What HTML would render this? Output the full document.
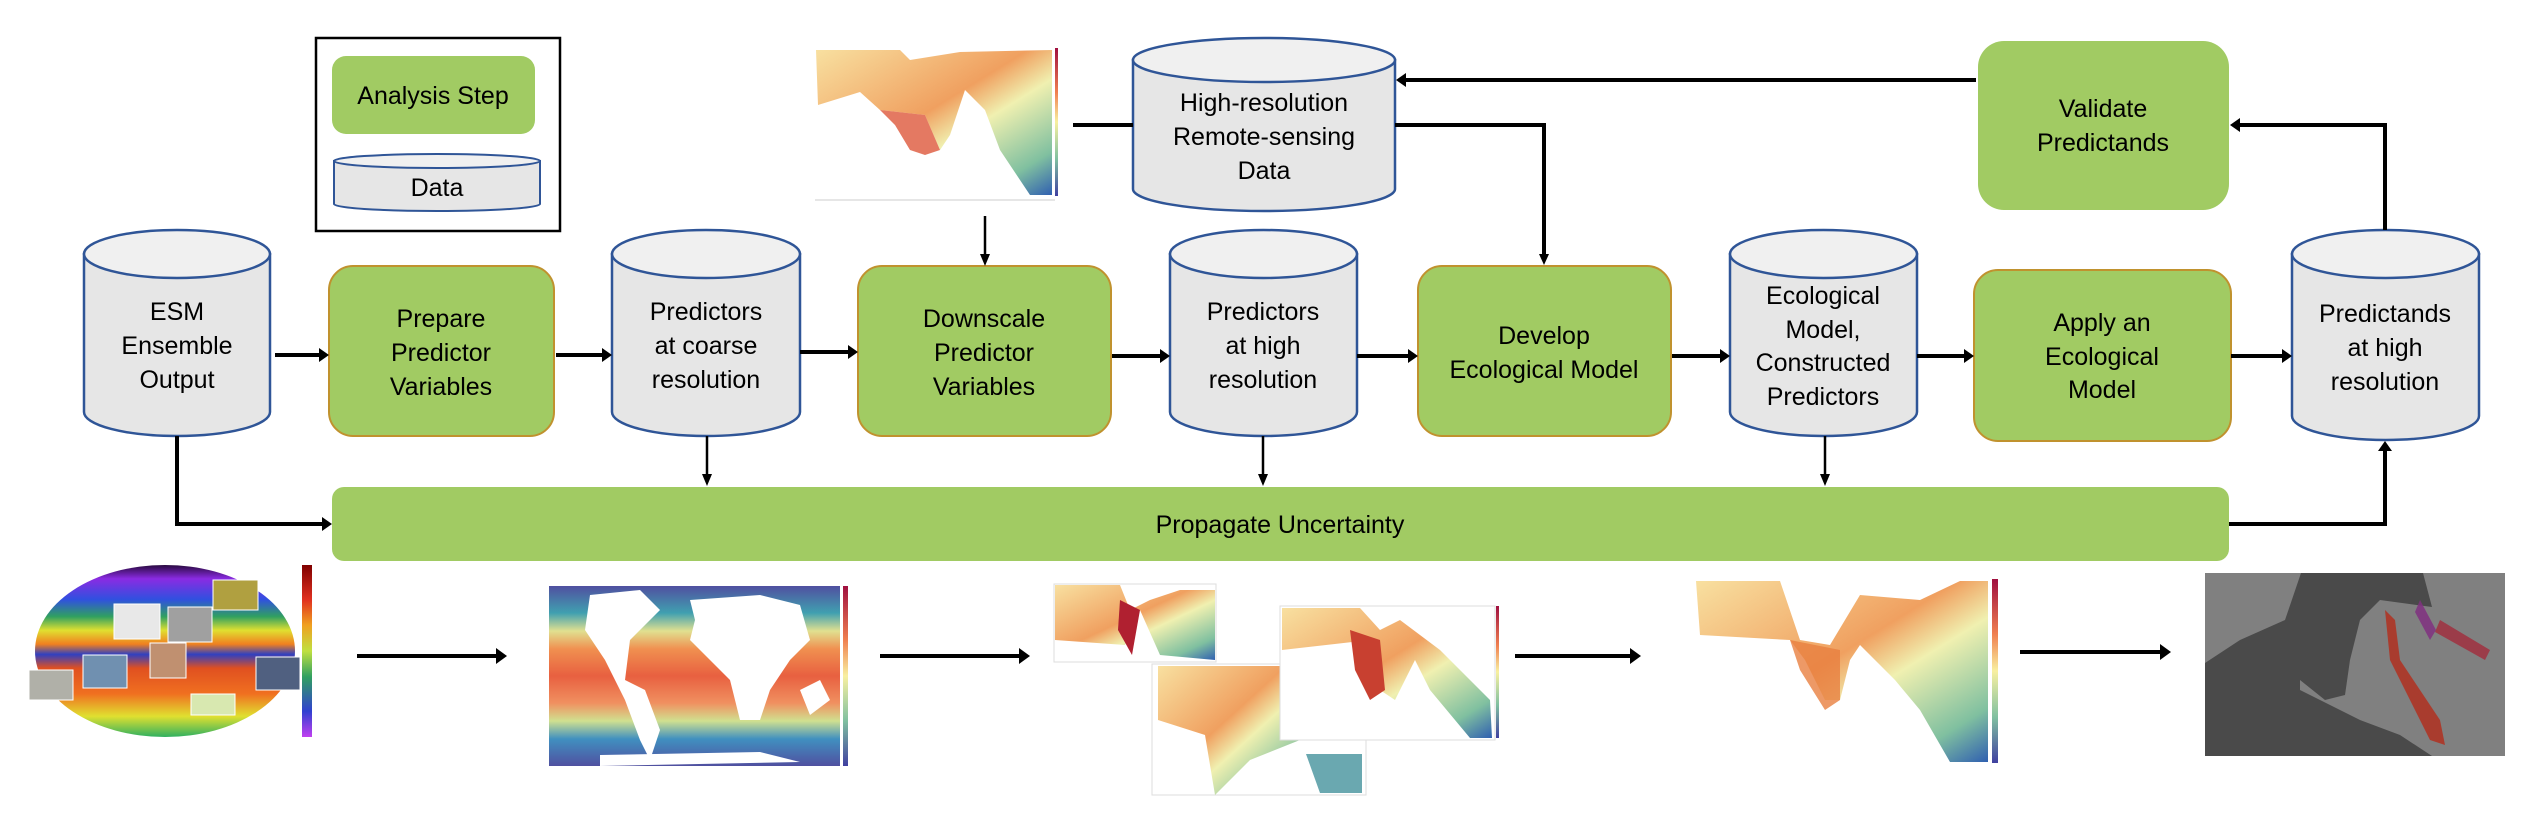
<!DOCTYPE html>
<html><head><meta charset="utf-8"><style>
html,body{margin:0;padding:0;background:#fff;width:2544px;height:832px;overflow:hidden}
svg{display:block}
text{font-family:"Liberation Sans",sans-serif;font-size:25px;fill:#000;text-anchor:middle;dominant-baseline:central}
</style></head><body>
<svg width="2544" height="832" viewBox="0 0 2544 832" xmlns="http://www.w3.org/2000/svg">
<defs>
<linearGradient id="globe" x1="0" y1="0" x2="0" y2="1">
<stop offset="0" stop-color="#2a0a40"/><stop offset="0.08" stop-color="#8a2be2"/><stop offset="0.2" stop-color="#3050e0"/><stop offset="0.3" stop-color="#30a060"/><stop offset="0.38" stop-color="#e0e030"/><stop offset="0.46" stop-color="#f08020"/><stop offset="0.52" stop-color="#3040c0"/><stop offset="0.6" stop-color="#e05020"/><stop offset="0.75" stop-color="#f07020"/><stop offset="0.88" stop-color="#e0e030"/><stop offset="1" stop-color="#30b060"/>
</linearGradient>
<linearGradient id="cbar" x1="0" y1="0" x2="0" y2="1">
<stop offset="0" stop-color="#800000"/><stop offset="0.2" stop-color="#e03020"/><stop offset="0.35" stop-color="#f0a020"/><stop offset="0.5" stop-color="#c0e040"/><stop offset="0.65" stop-color="#30a060"/><stop offset="0.85" stop-color="#3040d0"/><stop offset="1" stop-color="#c040f0"/>
</linearGradient>
<linearGradient id="sst" x1="0" y1="0" x2="0" y2="1">
<stop offset="0" stop-color="#5050a0"/><stop offset="0.15" stop-color="#40a0b0"/><stop offset="0.25" stop-color="#e0e090"/><stop offset="0.35" stop-color="#f09050"/><stop offset="0.5" stop-color="#e86040"/><stop offset="0.65" stop-color="#f09060"/><stop offset="0.75" stop-color="#d0e090"/><stop offset="0.85" stop-color="#4090c0"/><stop offset="1" stop-color="#5050a0"/>
</linearGradient>
<linearGradient id="reg" x1="0" y1="0" x2="1" y2="1">
<stop offset="0" stop-color="#f8e0a0"/><stop offset="0.45" stop-color="#f0a060"/><stop offset="0.6" stop-color="#f0f0b0"/><stop offset="0.85" stop-color="#80c0a0"/><stop offset="1" stop-color="#3060b0"/>
</linearGradient>
<linearGradient id="spec" x1="0" y1="0" x2="0" y2="1">
<stop offset="0" stop-color="#a01040"/><stop offset="0.3" stop-color="#f08050"/><stop offset="0.5" stop-color="#f8f0a0"/><stop offset="0.75" stop-color="#80c0a0"/><stop offset="1" stop-color="#4040a0"/>
</linearGradient>
</defs>

<rect x="316" y="38" width="244" height="193" fill="#fff" stroke="#000" stroke-width="2.5"/>
<rect x="332" y="56" width="203" height="78" rx="14" fill="#a1cb63"/>
<text x="433" y="96">Analysis Step</text>
<path d="M334 161 L334 204 A103 7 0 0 0 540 204 L540 161 Z" fill="#e6e6e6" stroke="#2f5597" stroke-width="2"/>
<ellipse cx="437" cy="161" rx="103" ry="7" fill="#f0f0f0" stroke="#2f5597" stroke-width="2"/>
<text x="437" y="188">Data</text>

<rect x="815" y="48" width="239" height="152" fill="#fff"/>
<path d="M816 50 L900 50 L910 60 L960 52 L1052 50 L1052 195 L1030 195 L1000 150 L985 110 L965 90 L950 135 L940 150 L925 115 L880 110 L860 92 L818 105 Z" fill="url(#reg)"/>
<path d="M880 110 L925 115 L940 150 L925 155 L910 150 L895 125 Z" fill="#d84020" opacity="0.7"/>
<rect x="1055" y="48" width="3" height="148" fill="url(#spec)"/>
<line x1="815" y1="200" x2="1055" y2="200" stroke="#ccc"/>

<path d="M1133 60 L1133 189 A131 22 0 0 0 1395 189 L1395 60 Z" fill="#e6e6e6" stroke="#2f5597" stroke-width="2.5"/>
<ellipse cx="1264" cy="60" rx="131" ry="22" fill="#f0f0f0" stroke="#2f5597" stroke-width="2.5"/>
<text x="1264" y="103">High-resolution</text>
<text x="1264" y="137">Remote-sensing</text>
<text x="1264" y="171">Data</text>

<rect x="1978" y="41" width="251" height="169" rx="26" fill="#a1cb63"/>
<text x="2103" y="109">Validate</text>
<text x="2103" y="143">Predictands</text>

<g stroke="#2f5597" stroke-width="2.5">
<path d="M84 254 L84 412 A93 24 0 0 0 270 412 L270 254 Z" fill="#e6e6e6"/>
<ellipse cx="177" cy="254" rx="93" ry="24" fill="#f0f0f0"/>
<path d="M612 254 L612 412 A94 24 0 0 0 800 412 L800 254 Z" fill="#e6e6e6"/>
<ellipse cx="706" cy="254" rx="94" ry="24" fill="#f0f0f0"/>
<path d="M1170 254 L1170 412 A93.5 24 0 0 0 1357 412 L1357 254 Z" fill="#e6e6e6"/>
<ellipse cx="1263.5" cy="254" rx="93.5" ry="24" fill="#f0f0f0"/>
<path d="M1730 254 L1730 412 A93.5 24 0 0 0 1917 412 L1917 254 Z" fill="#e6e6e6"/>
<ellipse cx="1823.5" cy="254" rx="93.5" ry="24" fill="#f0f0f0"/>
<path d="M2292 254 L2292 416 A93.5 24 0 0 0 2479 416 L2479 254 Z" fill="#e6e6e6"/>
<ellipse cx="2385.5" cy="254" rx="93.5" ry="24" fill="#f0f0f0"/>
</g>
<text x="177" y="312">ESM</text><text x="177" y="346">Ensemble</text><text x="177" y="380">Output</text>
<text x="706" y="312">Predictors</text><text x="706" y="346">at coarse</text><text x="706" y="380">resolution</text>
<text x="1263" y="312">Predictors</text><text x="1263" y="346">at high</text><text x="1263" y="380">resolution</text>
<text x="1823" y="296">Ecological</text><text x="1823" y="330">Model,</text><text x="1823" y="363">Constructed</text><text x="1823" y="397">Predictors</text>
<text x="2385" y="314">Predictands</text><text x="2385" y="348">at high</text><text x="2385" y="382">resolution</text>

<g fill="#a1cb63" stroke="#c0922e" stroke-width="2">
<rect x="329" y="266" width="225" height="170" rx="24"/>
<rect x="858" y="266" width="253" height="170" rx="24"/>
<rect x="1418" y="266" width="253" height="170" rx="24"/>
<rect x="1974" y="270" width="257" height="171" rx="24"/>
</g>
<text x="441" y="319">Prepare</text><text x="441" y="353">Predictor</text><text x="441" y="387">Variables</text>
<text x="984" y="319">Downscale</text><text x="984" y="353">Predictor</text><text x="984" y="387">Variables</text>
<text x="1544" y="336">Develop</text><text x="1544" y="370">Ecological Model</text>
<text x="2102" y="323">Apply an</text><text x="2102" y="357">Ecological</text><text x="2102" y="390">Model</text>

<rect x="332" y="487" width="1897" height="74" rx="12" fill="#a1cb63"/>
<text x="1280" y="525">Propagate Uncertainty</text>

<g stroke="#000" fill="none">
<g stroke-width="4">
<line x1="275" y1="355" x2="320" y2="355"/>
<line x1="556" y1="355" x2="604" y2="355"/>
<line x1="800" y1="352" x2="850" y2="352"/>
<line x1="1112" y1="356" x2="1162" y2="356"/>
<line x1="1357" y1="356" x2="1410" y2="356"/>
<line x1="1672" y1="356" x2="1722" y2="356"/>
<line x1="1917" y1="356" x2="1966" y2="356"/>
<line x1="2231" y1="356" x2="2284" y2="356"/>
<line x1="1976" y1="80" x2="1405" y2="80"/>
<polyline points="177,436 177,524 324,524"/>
<polyline points="2229,524 2385,524 2385,450"/>
<polyline points="2385,230 2385,125 2238,125"/>
<line x1="1073" y1="125" x2="1133" y2="125"/>
<polyline points="1395,125 1544,125 1544,256"/>
<line x1="357" y1="656" x2="498" y2="656"/>
<line x1="880" y1="656" x2="1022" y2="656"/>
<line x1="1515" y1="656" x2="1632" y2="656"/>
<line x1="2020" y1="652" x2="2162" y2="652"/>
</g>
<g stroke-width="2.5">
<line x1="707" y1="436" x2="707" y2="476"/>
<line x1="1263" y1="436" x2="1263" y2="476"/>
<line x1="1825" y1="436" x2="1825" y2="476"/>
<line x1="985" y1="216" x2="985" y2="256"/>
</g>
</g>
<g fill="#000">
<polygon points="329,355 319,348 319,362"/>
<polygon points="612,355 602,348 602,362"/>
<polygon points="858,352 848,345 848,359"/>
<polygon points="1170,356 1160,349 1160,363"/>
<polygon points="1418,356 1408,349 1408,363"/>
<polygon points="1730,356 1720,349 1720,363"/>
<polygon points="1974,356 1964,349 1964,363"/>
<polygon points="2292,356 2282,349 2282,363"/>
<polygon points="1396,80 1406,73 1406,87"/>
<polygon points="332,524 322,517 322,531"/>
<polygon points="2385,441 2378,451 2392,451"/>
<polygon points="2230,125 2240,118 2240,132"/>
<polygon points="1544,265 1539,254 1549,254"/>
<polygon points="707,486 702,474 712,474"/>
<polygon points="1263,486 1258,474 1268,474"/>
<polygon points="1825,486 1820,474 1830,474"/>
<polygon points="985,266 980,254 990,254"/>
<polygon points="507,656 496,648 496,664"/>
<polygon points="1030,656 1019,648 1019,664"/>
<polygon points="1641,656 1630,648 1630,664"/>
<polygon points="2171,652 2160,644 2160,660"/>
</g>

<ellipse cx="165" cy="651" rx="130" ry="86" fill="url(#globe)"/>
<g fill="#ccc" stroke="#fff" stroke-width="1">
<rect x="114" y="604" width="46" height="35" fill="#e8e8e8"/>
<rect x="168" y="607" width="44" height="35" fill="#a0a0a0"/>
<rect x="213" y="580" width="45" height="30" fill="#b0a040"/>
<rect x="150" y="643" width="36" height="35" fill="#c09070"/>
<rect x="83" y="655" width="44" height="33" fill="#7090b0"/>
<rect x="29" y="670" width="44" height="30" fill="#b0b0a8"/>
<rect x="256" y="657" width="44" height="33" fill="#506080"/>
<rect x="191" y="694" width="44" height="21" fill="#d8e8b0"/>
</g>
<rect x="302" y="565" width="10" height="172" fill="url(#cbar)"/>

<rect x="549" y="586" width="291" height="180" fill="url(#sst)"/>
<g fill="#fff">
<path d="M590 595 L640 590 L660 610 L630 640 L625 680 L645 690 L660 730 L650 760 L640 740 L625 700 L605 660 L585 630 Z"/>
<path d="M690 600 L760 595 L800 605 L810 640 L790 660 L770 690 L760 720 L740 720 L730 680 L710 660 L690 640 L695 620 Z"/>
<path d="M800 690 L820 680 L830 700 L810 715 Z"/>
<path d="M600 755 L760 752 L800 762 L600 766 Z"/>
</g>
<rect x="843" y="586" width="5" height="180" fill="url(#spec)"/>

<rect x="1152" y="664" width="214" height="131" fill="#fff" stroke="#ddd"/>
<path d="M1158 666 L1300 666 L1300 740 L1250 760 L1215 795 L1205 735 L1158 720 Z" fill="url(#reg)"/>
<path d="M1306 754 L1362 754 L1362 793 L1320 793 Z" fill="#6aa8b0"/>
<rect x="1054" y="584" width="162" height="78" fill="#fff" stroke="#ddd"/>
<path d="M1055 585 L1120 585 L1130 610 L1150 600 L1180 590 L1215 590 L1215 660 L1160 655 L1140 610 L1125 645 L1055 640 Z" fill="url(#reg)"/>
<path d="M1120 600 L1140 610 L1132 655 L1118 630 Z" fill="#b02030"/>
<rect x="1280" y="606" width="215" height="134" fill="#fff" stroke="#ddd"/>
<path d="M1282 608 L1360 608 L1380 630 L1400 620 L1440 650 L1490 700 L1492 738 L1470 738 L1430 690 L1415 660 L1395 700 L1380 690 L1370 640 L1282 650 Z" fill="url(#reg)"/>
<path d="M1350 630 L1380 640 L1385 690 L1370 700 L1355 670 Z" fill="#c84030"/>
<rect x="1496" y="606" width="3" height="132" fill="url(#spec)"/>

<rect x="1694" y="579" width="296" height="184" fill="#fff"/>
<path d="M1696 581 L1780 581 L1800 640 L1830 645 L1860 595 L1920 600 L1960 581 L1988 581 L1988 762 L1950 762 L1920 710 L1895 680 L1860 645 L1850 660 L1840 700 L1825 700 L1805 660 L1790 640 L1700 635 Z" fill="url(#reg)"/>
<path d="M1790 640 L1840 650 L1840 700 L1825 710 L1800 670 Z" fill="#e88040" opacity="0.8"/>
<rect x="1992" y="579" width="6" height="184" fill="url(#spec)"/>

<rect x="2205" y="573" width="300" height="183" fill="#808080"/>
<path d="M2205 663 L2240 640 L2285 620 L2301 573 L2423 573 L2432 607 L2380 600 L2360 620 L2350 660 L2345 695 L2325 700 L2300 680 L2300 690 L2360 720 L2400 735 L2432 756 L2205 756 Z" fill="#4a4a4a"/>
<path d="M2385 610 L2395 620 L2400 660 L2420 690 L2440 720 L2445 745 L2430 740 L2410 700 L2390 660 Z" fill="#b03020" opacity="0.85"/>
<path d="M2440 620 L2490 650 L2485 660 L2435 632 Z" fill="#a03040" opacity="0.85"/>
<path d="M2420 600 L2436 630 L2430 640 L2415 612 Z" fill="#803080" opacity="0.85"/>
</svg>
</body></html>
